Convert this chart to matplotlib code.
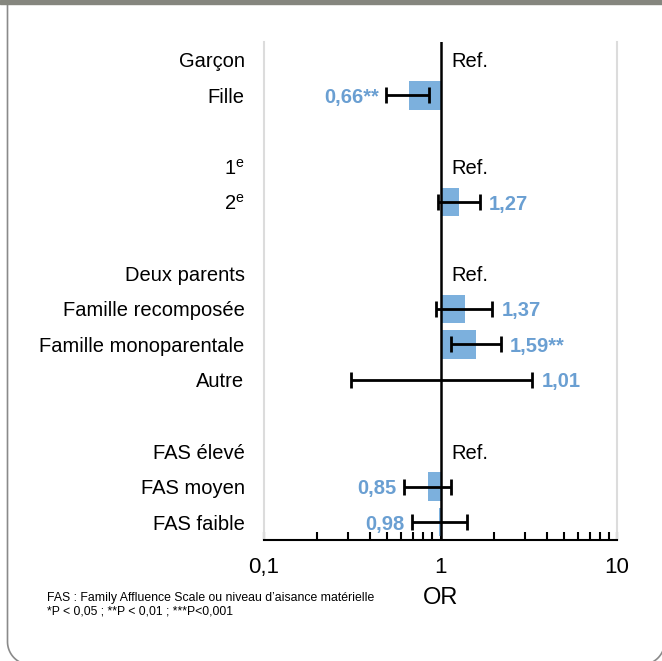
import matplotlib
matplotlib.use("Agg")
import matplotlib.pyplot as plt
import numpy as np
from matplotlib.lines import Line2D
from matplotlib.patches import Rectangle
from matplotlib.ticker import LogLocator, NullFormatter, FixedLocator, FixedFormatter

plt.rcParams["font.family"] = ["Liberation Sans", "DejaVu Sans"]
plt.rcParams["mathtext.default"] = "regular"
FS = 14.5

# rows top to bottom; None = blank gap row
categories = ["Garçon", "Fille", None,
              "1$^{e}$", "2$^{e}$", None,
              "Deux parents", "Famille recomposée", "Famille monoparentale", "Autre", None,
              "FAS élevé", "FAS moyen", "FAS faible"]
odds = [None, 0.66, None, None, 1.27, None, None, 1.37, 1.59, 1.01, None, None, 0.85, 0.98]
ci_low = [None, 0.49, None, None, 0.97, None, None, 0.94, 1.15, 0.31, None, None, 0.62, 0.69]
ci_high = [None, 0.86, None, None, 1.67, None, None, 1.97, 2.19, 3.30, None, None, 1.15, 1.41]
value_labels = [None, "0,66**", None, None, "1,27", None, None, "1,37", "1,59**", "1,01",
                None, None, "0,85", "0,98"]
ref_rows = [0, 3, 6, 11]

BAR = "#7cb0dd"
TXT = "#6a9fd2"

W, H = 662, 661
fig = plt.figure(figsize=(W / 100, H / 100), dpi=100)
ax = fig.add_axes([264 / W, 1 - 540 / H, (617 - 264) / W, (540 - 42) / H])
ax.set_xscale("log")
ax.set_xlim(0.1, 10)
ax.set_ylim(13.5, -0.5)

for i, (v, lo, hi, lab) in enumerate(zip(odds, ci_low, ci_high, value_labels)):
    if v is None:
        continue
    ax.barh(i, v - 1, left=1, height=0.8, color=BAR, zorder=2)
    ax.errorbar(v, i, xerr=[[v - lo], [hi - v]], fmt="none", ecolor="black",
                elinewidth=2, capsize=6, capthick=2, zorder=4)
    if v >= 1:
        ax.text(hi * 1.13, i, lab, color=TXT, fontsize=FS, fontweight="bold",
                va="center_baseline", ha="left")
    else:
        ax.text(lo / 1.1, i, lab, color=TXT, fontsize=FS, fontweight="bold",
                va="center_baseline", ha="right")

for r in ref_rows:
    ax.text(1.15, r, "Ref.", fontsize=FS, va="center_baseline", ha="left")

ax.axvline(1, color="black", lw=1.8, zorder=3)

# y labels
rows = [i for i, c in enumerate(categories) if c is not None]
ax.yaxis.set_major_locator(FixedLocator(rows))
ax.yaxis.set_major_formatter(FixedFormatter([categories[i] for i in rows]))
ax.tick_params(axis="y", length=0, pad=14, labelsize=FS)
for t in ax.get_yticklabels():
    t.set_verticalalignment("center_baseline")

ax.xaxis.set_major_locator(FixedLocator([0.1, 1, 10]))
ax.xaxis.set_major_formatter(FixedFormatter(["0,1", "1", "10"]))
ax.xaxis.set_minor_locator(LogLocator(base=10, subs=np.arange(2, 10)))
ax.xaxis.set_minor_formatter(NullFormatter())
ax.tick_params(axis="x", which="both", direction="in", length=6, width=1.5,
               labelsize=16, pad=12)
ax.set_xlabel("OR", fontsize=17, labelpad=7)

for s in ["left", "right"]:
    ax.spines[s].set_color("#dcdcdc")
    ax.spines[s].set_linewidth(1.5)
ax.spines["top"].set_visible(False)
ax.spines["bottom"].set_linewidth(1.5)

fig.text(47 / W, 1 - 598 / H, "FAS : Family Affluence Scale ou niveau d’aisance matérielle",
         fontsize=8.8, va="center", ha="left")
fig.text(47 / W, 1 - 611 / H, "*P < 0,05 ; **P < 0,01 ; ***P<0,001",
         fontsize=8.8, va="center", ha="left")

# frame: left edge with rounded bottom corners (bottom/right edges sit just off-canvas)
r, x0, x1, y0 = 23, 7.5, 664.7, -3.7
t = np.linspace(0, np.pi / 2, 30)
xs = np.concatenate([[x0], x0 + r - r * np.cos(t), x1 - r + r * np.sin(t), [x1]])
ys = np.concatenate([[H + 10], y0 + r - r * np.sin(t), y0 + r - r * np.cos(t), [H + 10]])
fig.lines.append(Line2D(xs / W, ys / H, transform=fig.transFigure, color="#8a8a8a", lw=1.2))
fig.patches.append(Rectangle((0, 1 - 4 / H), 1, 4 / H, transform=fig.transFigure,
                             color="#85867e", zorder=5))

fig.savefig("out.png", dpi=100)
